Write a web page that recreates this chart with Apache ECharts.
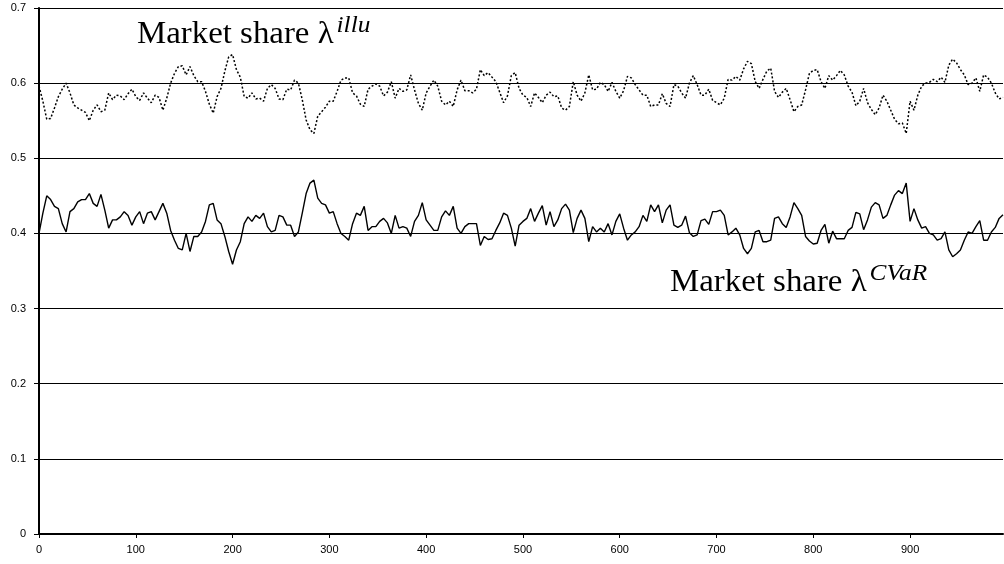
<!DOCTYPE html>
<html>
<head>
<meta charset="utf-8">
<script src="https://cdn.jsdelivr.net/npm/echarts@6/dist/echarts.min.js"></script>
<style>
html,body{margin:0;padding:0;background:#fff;}
#chart{width:1004px;height:564px;}
</style>
</head>
<body>
<div id="chart"></div>
<script>
// Sampling step of the period index (x axis)
const periodStep = 4;

// Market share of CVaR investors (solid line), read every 4 periods
const cvarShare = [
0.400,0.427,0.450,0.445,0.436,0.433,0.413,0.402,0.429,0.433,
0.442,0.445,0.445,0.453,0.440,0.436,0.452,0.431,0.407,0.418,
0.418,0.422,0.429,0.424,0.411,0.422,0.429,0.413,0.427,0.429,
0.418,0.429,0.440,0.427,0.404,0.391,0.380,0.378,0.400,0.376,
0.396,0.396,0.402,0.416,0.438,0.440,0.418,0.413,0.396,0.376,
0.359,0.378,0.389,0.413,0.422,0.416,0.424,0.420,0.427,0.409,
0.402,0.404,0.424,0.422,0.411,0.411,0.396,0.402,0.427,0.453,
0.467,0.471,0.447,0.440,0.438,0.427,0.429,0.413,0.400,0.396,
0.391,0.413,0.427,0.424,0.436,0.404,0.409,0.409,0.416,0.420,
0.414,0.400,0.424,0.407,0.409,0.407,0.396,0.416,0.424,0.441,
0.418,0.411,0.404,0.404,0.422,0.430,0.424,0.436,0.407,0.400,
0.409,0.413,0.413,0.413,0.384,0.396,0.392,0.393,0.404,0.414,
0.427,0.424,0.407,0.383,0.411,0.416,0.420,0.433,0.416,0.427,
0.437,0.411,0.429,0.409,0.418,0.433,0.439,0.431,0.401,0.420,
0.431,0.420,0.389,0.409,0.402,0.407,0.402,0.413,0.398,0.416,
0.426,0.407,0.391,0.398,0.402,0.409,0.424,0.416,0.438,0.429,
0.438,0.414,0.431,0.438,0.411,0.408,0.411,0.423,0.401,0.396,
0.398,0.417,0.419,0.412,0.429,0.429,0.431,0.424,0.398,0.402,
0.407,0.398,0.380,0.373,0.380,0.402,0.404,0.389,0.389,0.391,
0.420,0.422,0.413,0.408,0.422,0.441,0.433,0.424,0.396,0.390,
0.386,0.387,0.404,0.412,0.387,0.403,0.393,0.393,0.393,0.404,
0.408,0.428,0.426,0.405,0.418,0.435,0.441,0.438,0.420,0.424,
0.438,0.451,0.457,0.453,0.467,0.416,0.433,0.418,0.407,0.409,
0.400,0.398,0.391,0.393,0.402,0.378,0.369,0.373,0.378,0.391,
0.402,0.400,0.409,0.417,0.391,0.391,0.402,0.408,0.420,0.425
];

// Market share of "illu" investors (dotted line), read every 4 periods
const illuShare = [
0.596,0.576,0.552,0.553,0.567,0.582,0.592,0.600,0.587,0.571,
0.567,0.564,0.561,0.550,0.564,0.571,0.562,0.564,0.587,0.578,
0.584,0.583,0.578,0.586,0.592,0.582,0.577,0.587,0.580,0.574,
0.584,0.581,0.564,0.580,0.600,0.613,0.622,0.623,0.611,0.622,
0.610,0.602,0.602,0.589,0.572,0.560,0.582,0.593,0.616,0.635,
0.638,0.618,0.608,0.582,0.580,0.587,0.579,0.580,0.576,0.593,
0.598,0.593,0.579,0.578,0.592,0.591,0.604,0.600,0.578,0.551,
0.538,0.533,0.556,0.562,0.568,0.576,0.576,0.589,0.604,0.607,
0.607,0.587,0.583,0.572,0.569,0.592,0.596,0.599,0.596,0.583,
0.588,0.602,0.580,0.593,0.589,0.591,0.611,0.591,0.573,0.564,
0.587,0.596,0.604,0.596,0.576,0.571,0.576,0.569,0.591,0.604,
0.590,0.590,0.587,0.592,0.618,0.610,0.614,0.608,0.602,0.588,
0.574,0.583,0.610,0.614,0.593,0.584,0.581,0.569,0.587,0.581,
0.574,0.584,0.588,0.582,0.583,0.567,0.564,0.569,0.602,0.584,
0.576,0.587,0.611,0.591,0.592,0.601,0.598,0.589,0.601,0.589,
0.580,0.590,0.609,0.607,0.598,0.591,0.584,0.584,0.569,0.571,
0.571,0.586,0.573,0.569,0.598,0.596,0.587,0.580,0.600,0.610,
0.598,0.584,0.584,0.592,0.577,0.574,0.571,0.580,0.605,0.604,
0.609,0.604,0.619,0.629,0.626,0.602,0.593,0.605,0.616,0.620,
0.589,0.581,0.588,0.593,0.578,0.562,0.569,0.571,0.591,0.613,
0.617,0.618,0.602,0.593,0.610,0.604,0.610,0.617,0.611,0.596,
0.588,0.570,0.576,0.593,0.574,0.565,0.558,0.567,0.584,0.576,
0.564,0.552,0.546,0.547,0.533,0.576,0.564,0.584,0.596,0.600,
0.601,0.605,0.602,0.608,0.601,0.624,0.632,0.627,0.618,0.611,
0.598,0.600,0.607,0.589,0.611,0.608,0.600,0.587,0.579,0.581
];

const labelIllu = { main: 'Market share λ', sup: 'illu' };
const labelCvar = { main: 'Market share λ', sup: 'CVaR' };

const periods = cvarShare.map((_, i) => i * periodStep);
const cvarData = periods.map((p, i) => [p, cvarShare[i]]);
const illuData = periods.map((p, i) => [p, illuShare[i]]);

const MAIN_FONT = 31, SUP_FONT = 23, WIDEN = 1.06;
const SERIF = '"Liberation Serif", "DejaVu Serif", serif';
const mctx = document.createElement('canvas').getContext('2d');
mctx.font = MAIN_FONT + 'px ' + SERIF;
const mainW = mctx.measureText(labelIllu.main).width * WIDEN;

function annotation(lbl, x, yMid) {
  return [
    { type: 'text', x: x, y: yMid - MAIN_FONT / 2, scaleX: WIDEN, z: 100,
      style: { text: lbl.main, font: MAIN_FONT + 'px ' + SERIF, fill: '#000' } },
    { type: 'text', x: x + mainW + 3, y: yMid - MAIN_FONT / 2 - 5, scaleX: 1.1, z: 100,
      style: { text: lbl.sup, font: 'italic ' + SUP_FONT + 'px ' + SERIF, fill: '#000' } }
  ];
}

const chart = echarts.init(document.getElementById('chart'), null, { renderer: 'canvas' });
chart.setOption({
  animation: false,
  backgroundColor: '#fff',
  grid: { left: 39, right: 1, top: 8, bottom: 30, containLabel: false },
  xAxis: {
    type: 'value', min: 0, max: 996, interval: 100,
    axisLine: { show: true, onZero: false, lineStyle: { color: '#000', width: 2 } },
    axisTick: { show: true, inside: false, length: 4, lineStyle: { color: '#000', width: 1 } },
    axisLabel: { show: true, margin: 10, color: '#000', fontSize: 11, fontFamily: '"Liberation Sans", Arial, sans-serif', showMaxLabel: false, showMinLabel: true },
    splitLine: { show: false }
  },
  yAxis: {
    type: 'value', min: 0, max: 0.7, interval: 0.1,
    axisLine: { show: true, lineStyle: { color: '#000', width: 2 } },
    axisTick: { show: true, inside: false, length: 5, lineStyle: { color: '#000', width: 1 } },
    axisLabel: { show: true, margin: 13, color: '#000', fontSize: 11, fontFamily: '"Liberation Sans", Arial, sans-serif' },
    splitLine: { show: true, lineStyle: { color: '#000', width: 1 } }
  },
  series: [
    { type: 'line', name: 'illu', data: illuData, showSymbol: false, symbol: 'none',
      lineStyle: { color: '#000', width: 1.5, type: [2, 2] } },
    { type: 'line', name: 'CVaR', data: cvarData, showSymbol: false, symbol: 'none',
      lineStyle: { color: '#000', width: 1.4, type: 'solid' } }
  ],
  graphic: annotation(labelIllu, 137, 35).concat(annotation(labelCvar, 670, 283))
});
</script>
</body>
</html>
